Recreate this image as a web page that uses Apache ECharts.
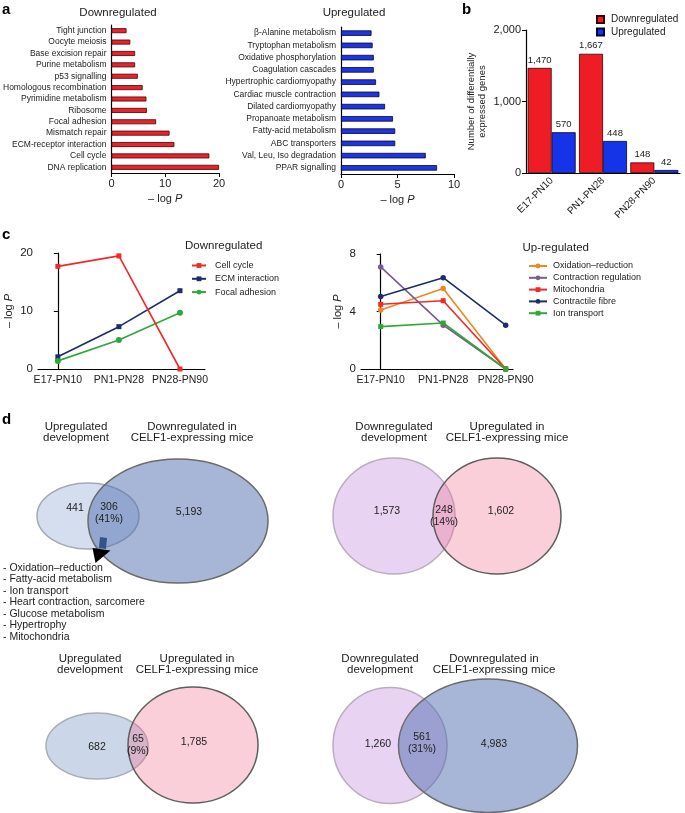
<!DOCTYPE html>
<html><head><meta charset="utf-8">
<script src="https://cdn.jsdelivr.net/npm/echarts@6/dist/echarts.min.js"></script>
<style>html,body{margin:0;padding:0;background:#fff}#c{width:685px;height:813px}</style>
</head><body><div id="c"></div>
<script>
// ---------- data ----------
const downTerms = ['Tight junction','Oocyte meiosis','Base excision repair','Purine metabolism','p53 signalling','Homologous recombination','Pyrimidine metabolism','Ribosome','Focal adhesion','Mismatch repair','ECM-receptor interaction','Cell cycle','DNA replication'];
const downLogP = [2.8,3.5,4.4,4.4,4.9,5.8,6.5,6.6,8.3,10.8,11.7,18.2,20.0];
const upTerms = ['β-Alanine metabolism','Tryptophan metabolism','Oxidative phosphorylation','Coagulation cascades','Hypertrophic cardiomyopathy','Cardiac muscle contraction','Dilated cardiomyopathy','Propanoate metabolism','Fatty-acid metabolism','ABC transporters','Val, Leu, Iso degradation','PPAR signalling'];
const upLogP = [2.7,2.8,2.9,2.9,3.1,3.4,3.9,4.6,4.8,4.8,7.5,8.5];
const stages = ['E17-PN10','PN1-PN28','PN28-PN90'];
const degDown = [1470,1667,148];
const degUp = [570,448,42];
const cellCycle = [17.7,19.5,0];
const ecmInteraction = [2.1,7.3,13.5];
const focalAdhesion = [1.4,5.0,9.7];
const oxidationReduction = [4.1,5.6,0];
const contractionRegulation = [7.1,3.05,0];
const mitochondria = [4.5,4.75,0];
const contractileFibre = [5.05,6.35,3.05];
const ionTransport = [2.95,3.2,0];
const vennTitleA = ['Upregulated\ndevelopment','Downregulated\ndevelopment','Upregulated\ndevelopment','Downregulated\ndevelopment'];
const vennTitleB = ['Downregulated in\nCELF1-expressing mice','Upregulated in\nCELF1-expressing mice','Upregulated in\nCELF1-expressing mice','Downregulated in\nCELF1-expressing mice'];
const vennOnlyA = [441,1573,682,1260];
const vennBoth = [306,248,65,561];
const vennPct = [41,14,9,31];
const vennOnlyB = [5193,1602,1785,4983];
const enrichedTerms = ['- Oxidation\u2013reduction','- Fatty-acid metabolism','- Ion transport','- Heart contraction, sarcomere','- Glucose metabolism','- Hypertrophy','- Mitochondria'];

// ---------- layout (page coordinates for Venn geometry) ----------
const vennLayout = [
  {a:[88,516,51,33], b:[178,521,90,62], tA:[76,432], tB:[192,432], oA:[75,508], ab:[109,513], oB:[189,512]},
  {a:[394,516,61,58], b:[497,516,64,58], tA:[394,432], tB:[507,432], oA:[387,511], ab:[444,516], oB:[501,511]},
  {a:[97,746,51,33], b:[193,745,65,58], tA:[90,664], tB:[197,664], oA:[97,747], ab:[138,745], oB:[194,742]},
  {a:[390,745.5,57,58], b:[488,745.7,89.5,66.7], tA:[380,664], tB:[494,664], oA:[378,744], ab:[422,743], oB:[494,744]}
];
const vennFillA = ['#d4deef','#e8d3f3','#cbd7e8','#e8d3f3'];
const vennStrokeA = ['#a3aab3','#b9adbd','#a9aeb6','#b9adbd'];
const vennFillB = ['rgba(80,110,175,0.5)','rgba(240,110,140,0.33)','rgba(240,110,140,0.33)','rgba(80,110,175,0.5)'];
const vennStrokeB = ['#6b6b6b','#5e5e5e','#5e5e5e','#6b6b6b'];

const FF = '"Liberation Sans", Arial, Helvetica, sans-serif';
const TXT = '#222';
const fmt = v => Number(v).toLocaleString('en-US');
const logPName = '\u2013 log {i|P}';
const nameStyle = (fs) => ({fontSize:fs, color:TXT, fontFamily:FF, rich:{i:{fontStyle:'italic', fontSize:fs, color:TXT, fontFamily:FF}}});
const axLine = {show:true, lineStyle:{color:'#000', width:1.2}};
const axTick = {show:true, length:4, inside:false, lineStyle:{color:'#000', width:1}};

const chart = echarts.init(document.getElementById('c'), null, {renderer:'canvas'});

const lineSeries = (name, vals, color, symbol, xi, yi, size) => ({
  type:'line', name, xAxisIndex:xi, yAxisIndex:yi,
  data: vals.map((v,i)=>[i,v]),
  symbol, symbolSize:size, showSymbol:true,
  lineStyle:{color, width:1.6}, itemStyle:{color, borderWidth:0},
  emphasis:{disabled:true}
});

const option = {
  animation:false,
  textStyle:{fontFamily:FF},
  grid:[
    {left:109, top:25, width:110, height:148},
    {left:341, top:27, width:113, height:147},
    {left:526, top:30, width:154, height:143},
    {left:38, top:253, width:167, height:116},
    {left:361, top:254, width:152, height:115},
    {left:0, top:0, width:685, height:813}
  ],
  xAxis:[
    {gridIndex:0, type:'value', min:0, max:20, interval:10, axisLine:axLine, axisTick:axTick, splitLine:{show:false},
      axisLabel:{fontSize:11, color:TXT, margin:5}, name:logPName, nameLocation:'middle', nameGap:20, nameTextStyle:nameStyle(11)},
    {gridIndex:1, type:'value', min:0, max:10, interval:5, axisLine:axLine, axisTick:axTick, splitLine:{show:false},
      axisLabel:{fontSize:11, color:TXT, margin:5}, name:logPName, nameLocation:'middle', nameGap:20, nameTextStyle:nameStyle(11)},
    {gridIndex:2, type:'category', data:stages, axisLine:axLine, axisTick:{show:false},
      axisLabel:{fontSize:10, color:TXT, rotate:45, margin:6, interval:0}},
    {gridIndex:3, type:'value', min:-0.325, max:2.41, axisLine:axLine, axisTick:{show:false}, splitLine:{show:false},
      axisLabel:{fontSize:10.5, color:TXT, margin:6, customValues:[0,1,2], formatter:v=>stages[Math.round(v)] || ''}},
    {gridIndex:4, type:'value', min:-0.315, max:2.117, axisLine:axLine, axisTick:{show:false}, splitLine:{show:false},
      axisLabel:{fontSize:10.5, color:TXT, margin:6, customValues:[0,1,2], formatter:v=>stages[Math.round(v)] || ''}},
    {gridIndex:5, type:'value', min:0, max:685, show:false}
  ],
  yAxis:[
    {gridIndex:0, type:'category', data:downTerms, inverse:true, axisLine:axLine, axisTick:{show:false},
      axisLabel:{fontSize:8.5, color:TXT, margin:5, interval:0}},
    {gridIndex:1, type:'category', data:upTerms, inverse:true, axisLine:axLine, axisTick:{show:false},
      axisLabel:{fontSize:8.5, color:TXT, margin:5, interval:0}},
    {gridIndex:2, type:'value', min:0, max:2000, interval:1000, axisLine:axLine, axisTick:axTick, splitLine:{show:false},
      axisLabel:{fontSize:11, color:TXT, margin:5, formatter:fmt},
      name:'Number of differentially\nexpressed genes', nameLocation:'middle', nameGap:38,
      nameTextStyle:{fontSize:9.5, color:TXT, lineHeight:11}},
    {gridIndex:3, type:'value', min:0, max:20, interval:10, axisLine:axLine, axisTick:axTick, splitLine:{show:false},
      axisLabel:{fontSize:11.5, color:TXT, margin:5}, name:logPName, nameLocation:'middle', nameGap:24, nameTextStyle:nameStyle(11)},
    {gridIndex:4, type:'value', min:0, max:8, interval:4, axisLine:axLine, axisTick:axTick, splitLine:{show:false},
      axisLabel:{fontSize:11.5, color:TXT, margin:5}, name:logPName, nameLocation:'middle', nameGap:18, nameTextStyle:nameStyle(11)},
    {gridIndex:5, type:'value', min:0, max:813, inverse:true, show:false}
  ],
  legend:[
    {data:['Downregulated','Upregulated'], orient:'vertical', left:591, top:9, icon:'rect', itemWidth:7, itemHeight:7, itemGap:1.6,
      textStyle:{fontSize:10, color:TXT, lineHeight:11, padding:[0,0,0,2]}, selectedMode:false},
    {data:['Cell cycle','ECM interaction','Focal adhesion'], orient:'vertical', left:186, top:255.5, itemWidth:14, itemHeight:6, itemGap:3.3,
      textStyle:{fontSize:9, color:TXT, lineHeight:10, padding:[0,0,0,4]}, selectedMode:false},
    {data:['Oxidation\u2013reduction','Contraction regulation','Mitochondria','Contractile fibre','Ion transport'], orient:'vertical', left:523, top:256, itemWidth:18, itemHeight:6, itemGap:1.8,
      textStyle:{fontSize:9, color:TXT, lineHeight:10, padding:[0,0,0,1]}, selectedMode:false}
  ],
  series:[
    {type:'bar', name:'downKEGG', xAxisIndex:0, yAxisIndex:0, data:downLogP, barWidth:5,
      itemStyle:{color:'#e8232b', borderColor:'#4a0000', borderWidth:0.8}, emphasis:{disabled:true}},
    {type:'bar', name:'upKEGG', xAxisIndex:1, yAxisIndex:1, data:upLogP, barWidth:5.5,
      itemStyle:{color:'#1f35e0', borderColor:'#05053a', borderWidth:0.8}, emphasis:{disabled:true}},
    {type:'bar', name:'Downregulated', xAxisIndex:2, yAxisIndex:2, data:degDown, barWidth:24, barGap:'0%',
      itemStyle:{color:'#ee1d25', borderColor:'#3a0000', borderWidth:0.8},
      label:{show:true, position:'top', distance:3, fontSize:9.5, color:TXT, formatter:p=>fmt(p.value)}, emphasis:{disabled:true}},
    {type:'bar', name:'Upregulated', xAxisIndex:2, yAxisIndex:2, data:degUp, barWidth:24, barGap:'0%',
      itemStyle:{color:'#1533e8', borderColor:'#03033a', borderWidth:0.8},
      label:{show:true, position:'top', distance:3, fontSize:9.5, color:TXT, formatter:p=>fmt(p.value)}, emphasis:{disabled:true}},
    lineSeries('ECM interaction', ecmInteraction, '#1b2d6b', 'rect', 3, 3, 5),
    lineSeries('Focal adhesion', focalAdhesion, '#2fa83a', 'circle', 3, 3, 6),
    lineSeries('Cell cycle', cellCycle, '#ee2a2a', 'rect', 3, 3, 5),
    lineSeries('Oxidation\u2013reduction', oxidationReduction, '#f0861f', 'circle', 4, 4, 5.5),
    lineSeries('Contraction regulation', contractionRegulation, '#7a5b8e', 'circle', 4, 4, 5.5),
    lineSeries('Mitochondria', mitochondria, '#ee2a2a', 'rect', 4, 4, 5),
    lineSeries('Contractile fibre', contractileFibre, '#1b2d6b', 'circle', 4, 4, 5.5),
    lineSeries('Ion transport', ionTransport, '#2fa83a', 'rect', 4, 4, 5),
    {type:'custom', name:'venn', xAxisIndex:5, yAxisIndex:5, silent:true,
      data: vennLayout.map((l,i)=>[l.a[0], l.a[1], i]),
      renderItem:(params, api)=>{
        const i = api.value(2);
        const L = vennLayout[i];
        const P = (p)=>api.coord([p[0], p[1]]);
        const E = (e)=>{
          const c = api.coord([e[0], e[1]]);
          const c2 = api.coord([e[0]+e[2], e[1]+e[3]]);
          return {cx:c[0], cy:c[1], rx:Math.abs(c2[0]-c[0]), ry:Math.abs(c2[1]-c[1])};
        };
        const T = (p, text, fs, lh) => {
          const q = P(p);
          return {type:'text', x:q[0], y:q[1], style:{text, align:'center', verticalAlign:'middle', fontSize:fs, fontFamily:FF, fill:TXT, lineHeight:lh}};
        };
        return {type:'group', children:[
          {type:'ellipse', shape:E(L.a), style:{fill:vennFillA[i], stroke:vennStrokeA[i], lineWidth:1.5}},
          {type:'ellipse', shape:E(L.b), style:{fill:vennFillB[i], stroke:vennStrokeB[i], lineWidth:1.5}},
          T(L.tA, vennTitleA[i], 11.5, 11),
          T(L.tB, vennTitleB[i], 11.5, 11),
          T(L.oA, fmt(vennOnlyA[i]), 10.5, 12),
          T(L.ab, fmt(vennBoth[i]) + '\n(' + vennPct[i] + '%)', 10.5, 12),
          T(L.oB, fmt(vennOnlyB[i]), 10.5, 12)
        ]};
      }
    }
  ],
  graphic:[
    {type:'text', x:2, y:10, style:{text:'a', font:'bold 15px '+FF, fill:'#000', align:'left', verticalAlign:'middle'}},
    {type:'text', x:462, y:10, style:{text:'b', font:'bold 15px '+FF, fill:'#000', align:'left', verticalAlign:'middle'}},
    {type:'text', x:2, y:235, style:{text:'c', font:'bold 15px '+FF, fill:'#000', align:'left', verticalAlign:'middle'}},
    {type:'text', x:2, y:420, style:{text:'d', font:'bold 15px '+FF, fill:'#000', align:'left', verticalAlign:'middle'}},
    {type:'text', x:118, y:12.5, style:{text:'Downregulated', font:'11.5px '+FF, fill:TXT, align:'center', verticalAlign:'middle'}},
    {type:'text', x:354, y:12.5, style:{text:'Upregulated', font:'11.5px '+FF, fill:TXT, align:'center', verticalAlign:'middle'}},
    {type:'text', x:185, y:246, style:{text:'Downregulated', font:'11.5px '+FF, fill:TXT, align:'left', verticalAlign:'middle'}},
    {type:'text', x:522.5, y:248, style:{text:'Up-regulated', font:'11.5px '+FF, fill:TXT, align:'left', verticalAlign:'middle'}},
    {type:'polygon', z:100, shape:{points:[[100,537],[107,538],[106,549],[99,548]]}, style:{fill:'#35538a'}},
    {type:'polygon', z:100, shape:{points:[[92.5,548],[110.5,550.5],[95.5,563]]}, style:{fill:'#000'}},
    {type:'text', x:3, y:562.3, style:{text:enrichedTerms.join('\n'), font:'10.5px '+FF, fill:TXT, align:'left', verticalAlign:'top', lineHeight:11.5}}
  ]
};
chart.setOption(option);
</script>
</body></html>
